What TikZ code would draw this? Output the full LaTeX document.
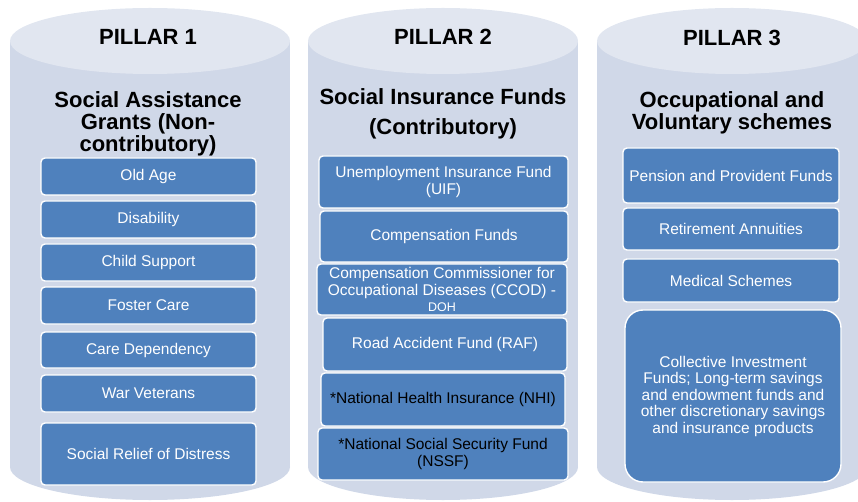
\documentclass[tikz,border=0pt]{standalone}
\usepackage{fontspec}
\setmainfont{Liberation Sans}
\usetikzlibrary{positioning}
\definecolor{barrel}{HTML}{D0D8E8}
\definecolor{barreltop}{HTML}{E1E6F0}
\definecolor{fundblue}{HTML}{4F81BD}

\begin{document}
\begin{tikzpicture}[x=1pt,y=-1pt,
  fund/.style={draw=white,line width=1.4pt,fill=fundblue,rounded corners=4pt,
    text=white,align=center,inner sep=0pt,
    font=\fontsize{15.5}{16.5}\selectfont},
  head/.style={align=center,font=\bfseries\fontsize{22}{22}\selectfont}]
  \useasboundingbox (0,0) rectangle (858,502);

  % the three pillars
  \fill[barrel] (10,41) rectangle (290,467);
  \fill[barrel] (150,467) ellipse[x radius=140,y radius=33];
  \fill[barreltop] (150,41) ellipse[x radius=140,y radius=33];
  \fill[barrel] (308,41) rectangle (578,467);
  \fill[barrel] (443,467) ellipse[x radius=135,y radius=33];
  \fill[barreltop] (443,41) ellipse[x radius=135,y radius=33];
  \fill[barrel] (597,41) rectangle (867,467);
  \fill[barrel] (732,467) ellipse[x radius=135,y radius=33];
  \fill[barreltop] (732,41) ellipse[x radius=135,y radius=33];

  \node[head] (p1) at (148,37) {PILLAR 1};
  \node[head] (p2) at (443,37) {PILLAR 2};
  \node[head] (p3) at (732,38) {PILLAR 3};
  \node[head] (grants) at (148,124) {Social Assistance\\Grants (Non-\\contributory)};
  \node[head] (insurance) at (443,114) {Social Insurance Funds\\[8pt](Contributory)};
  \node[head] (voluntary) at (732,113) {Occupational and\\Voluntary schemes};

  % pillar 1
  \node[fund,minimum width=215,minimum height=37] (oldage) at (148.5,176.5) {Old Age};
  \node[fund,minimum width=215,minimum height=37] (disability) at (148.5,219.5) {Disability};
  \node[fund,minimum width=215,minimum height=37] (child) at (148.5,262.5) {Child Support};
  \node[fund,minimum width=215,minimum height=37] (foster) at (148.5,305.5) {Foster Care};
  \node[fund,minimum width=215,minimum height=36] (care) at (148.5,350) {Care Dependency};
  \node[fund,minimum width=215,minimum height=37] (war) at (148.5,393.5) {War Veterans};
  \node[fund,minimum width=215,minimum height=62] (relief) at (148.5,454) {Social Relief of Distress};

  % pillar 2
  \node[fund,minimum width=249,minimum height=52] (uif) at (443.5,182) {Unemployment Insurance Fund\\(UIF)};
  \node[fund,minimum width=248,minimum height=51] (compfunds) at (444,236.5) {Compensation Funds};
  \node[fund,minimum width=250,minimum height=51] (ccod) at (442,289.5)
    {Compensation Commissioner for\\Occupational Diseases (CCOD) -\\{\fontsize{12.5}{13}\selectfont DOH}};
  \node[fund,minimum width=244,minimum height=53] (raf) at (445,344.5) {Road Accident Fund (RAF)};
  \node[fund,minimum width=244,minimum height=53,text=black] (nhi) at (443,399.5) {*National Health Insurance (NHI)};
  \node[fund,minimum width=250,minimum height=52,text=black] (nssf) at (443,454) {*National Social Security Fund\\(NSSF)};

  % pillar 3
  \node[fund,minimum width=216,minimum height=55] (pension) at (731,175.5) {Pension and Provident Funds};
  \node[fund,minimum width=216,minimum height=42] (annuity) at (731,229) {Retirement Annuities};
  \node[fund,minimum width=216,minimum height=43] (medical) at (731,280.5) {Medical Schemes};
  \node[fund,minimum width=216,minimum height=172,rounded corners=18pt] (collective) at (733,396)
    {Collective Investment\\Funds; Long-term savings\\and endowment funds and\\other discretionary savings\\and insurance products};
\end{tikzpicture}
\end{document}
